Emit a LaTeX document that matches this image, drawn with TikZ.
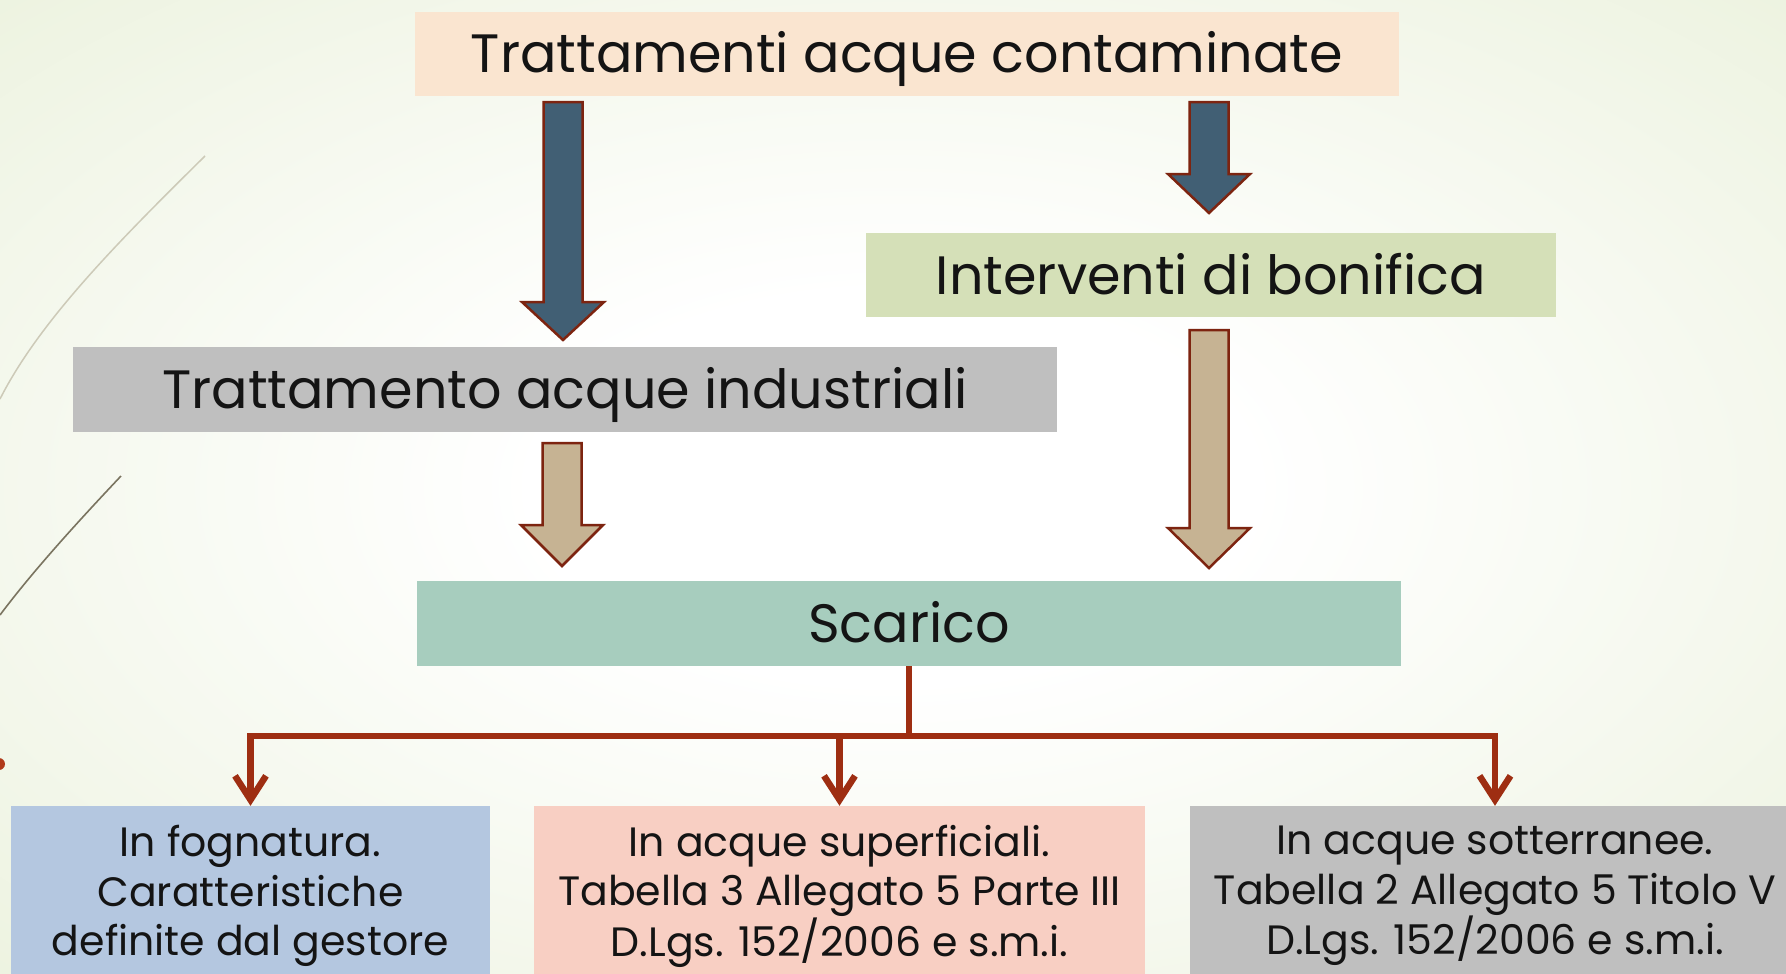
\documentclass[tikz,border=0pt]{standalone}
\usepackage{fontspec}
\setmainfont{Poppins}
\usetikzlibrary{arrows.meta}
\definecolor{bggreen}{RGB}{224,234,202}
\definecolor{topfill}{RGB}{250,229,208}
\definecolor{bonfill}{RGB}{213,224,184}
\definecolor{grayfill}{RGB}{191,191,191}
\definecolor{scafill}{RGB}{167,205,190}
\definecolor{bluefill}{RGB}{180,199,224}
\definecolor{pinkfill}{RGB}{248,207,195}
\definecolor{darkarr}{RGB}{65,95,116}
\definecolor{tanarr}{RGB}{198,179,147}
\definecolor{arrline}{RGB}{125,36,16}
\definecolor{connred}{RGB}{158,46,18}
\definecolor{txt}{RGB}{20,20,20}
\definecolor{curveA}{RGB}{205,202,184}
\definecolor{curveB}{RGB}{122,116,96}
\definecolor{dotred}{RGB}{176,58,26}
\pgfdeclareradialshading{bgshade}{\pgfpoint{0bp}{0bp}}{color(0bp)=(white); color(10bp)=(white); color(54bp)=(bggreen); color(100bp)=(bggreen)}
\newcommand\blockarr[5]{%
  \filldraw[fill=#1, draw=arrline, line width=2.5pt, line join=miter]
    (#2-19.5,#3) -- (#2+19.5,#3) -- (#2+19.5,#4) -- (#2+41,#4) -- (#2,#5)
    -- (#2-41,#4) -- (#2-19.5,#4) -- cycle;}
\tikzset{
  box/.style={rectangle, inner sep=0pt, text=txt, align=center},
  bigtxt/.style={font=\fontsize{54}{60}\selectfont, text height=38pt, text depth=0pt},
  smalltxt/.style={font=\fontsize{41}{49.5}\selectfont},
  conn/.style={draw=connred, line width=6.5pt, line join=miter},
  connarr/.style={conn, -{Straight Barb[length=24pt,width=31pt]}}
}
\begin{document}
\begin{tikzpicture}[x=1pt,y=-1pt]
\useasboundingbox (0,0) rectangle (1786,974);
\clip (0,0) rectangle (1786,974);
\shade[shading=bgshade] (0,0) rectangle (1786,974);
% decorative curves of the slide background
\draw[curveA, line width=1.5pt] (205,156) .. controls (120,240) and (40,320) .. (0,399);
\draw[curveB, line width=1.6pt] (121,476) .. controls (70,530) and (30,575) .. (0,615);
\fill[dotred] (-1,764) circle (6);
% boxes
\node[box, bigtxt, fill=topfill, minimum width=984pt, minimum height=84pt] (top) at (907,54) {Trattamenti acque contaminate};
\node[box, bigtxt, fill=bonfill, minimum width=690pt, minimum height=84pt] (bon) at (1211,275) {Interventi di bonifica};
\node[box, bigtxt, fill=grayfill, minimum width=984pt, minimum height=85pt] (ind) at (565,389.5) {Trattamento acque industriali};
\node[box, bigtxt, fill=scafill, minimum width=984pt, minimum height=85pt] (sca) at (909,623.5) {Scarico};
\node[box, smalltxt, fill=bluefill, minimum width=479pt, minimum height=180pt] (fog) at (250.5,896) {In fognatura.\\Caratteristiche\\definite dal gestore};
\node[box, smalltxt, fill=pinkfill, minimum width=611pt, minimum height=180pt] (sup) at (839.5,896) {In acque superficiali.\\Tabella 3 Allegato 5 Parte III\\D.Lgs. 152/2006 e s.m.i.};
\node[box, smalltxt, fill=grayfill, minimum width=610pt, minimum height=180pt] (sot) at (1495,896) {In acque sotterranee.\\Tabella 2 Allegato 5 Titolo V\\D.Lgs. 152/2006 e s.m.i.};
% block arrows
\blockarr{darkarr}{563}{102}{302}{340}
\blockarr{darkarr}{1209}{102}{174}{213}
\blockarr{tanarr}{562}{443}{525}{566}
\blockarr{tanarr}{1209}{330}{528}{568}
% connectors
\coordinate (junc) at (909,736);
\draw[conn] (sca.south) -- (junc);
\draw[connarr] (junc) -| (fog.north);
\draw[connarr] (junc) -| (sup.north);
\draw[connarr] (junc) -| (sot.north);
\end{tikzpicture}
\end{document}
